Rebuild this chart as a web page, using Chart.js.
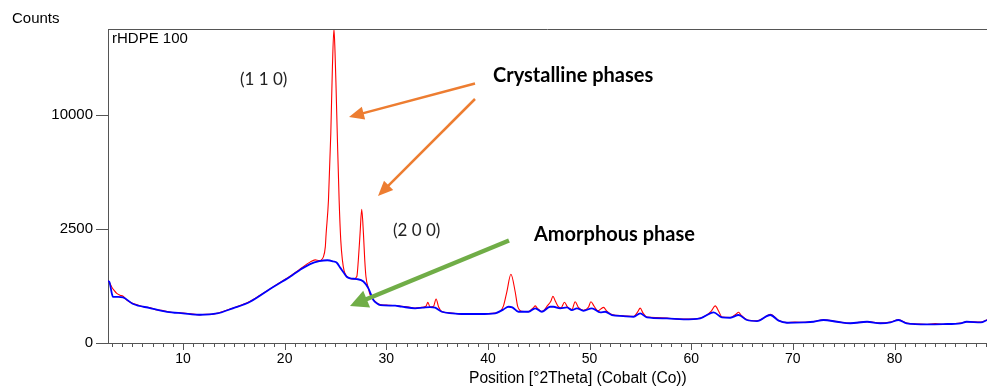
<!DOCTYPE html>
<html>
<head>
<meta charset="utf-8">
<script src="https://cdn.jsdelivr.net/npm/chart.js@4.4.0/dist/chart.umd.min.js"></script>
<style>
  html, body { margin: 0; padding: 0; background: #fff; }
</style>
</head>
<body>
<canvas id="xrd" width="987" height="387"></canvas>
<script>
// values (Counts vs Position [°2Theta])
var xTicks = [10, 20, 30, 40, 50, 60, 70, 80];
var yTicks = [0, 2500, 10000];

// amorphous fit (blue)
var blueX = [2.62, 2.75, 3.0, 3.1, 3.6, 4.1, 5.1, 6.75, 8.43, 10.0, 11.67, 13.35, 14.9, 16.6, 18.56, 20.53, 21.5, 22.5, 23.4, 24.2,
  24.8, 25.13, 25.5, 25.8, 26.1, 26.44, 27.1, 27.75, 28.24, 28.73, 29.1, 29.4, 30.87, 31.5, 32.84, 33.6, 34.3, 34.8, 35.46, 36.5,
  37.43, 39.2, 40.71, 41.5, 42.02, 42.4, 43.0, 43.99, 44.65, 45.31, 46.12, 46.45, 47.11, 47.77, 48.26, 48.75, 49.4, 50.23, 51.05, 51.54,
  52.2, 53.3, 54.33, 54.98, 55.64, 57.61, 59.25, 60.89, 61.87, 62.2, 63.02, 63.84, 64.66, 65.48, 66.47, 67.78, 68.6, 69.42, 71.06, 72.04,
  73.02, 74.34, 75.65, 77.3, 78.6, 79.6, 80.4, 81.2, 83.2, 84.8, 86.5, 87.1, 88.5, 89.1];
var blueY = [740, 720, 470, 412, 410, 400, 293, 236, 188, 170, 154, 168, 232, 328, 561, 846, 1030, 1200, 1290, 1320,
  1280, 1240, 1080, 960, 846, 805, 788, 730, 576, 356, 300, 278, 268, 255, 232, 240, 248, 240, 188, 170,
  162, 162, 170, 215, 253, 245, 188, 188, 232, 188, 253, 253, 232, 245, 209, 232, 200, 232, 181, 188,
  151, 140, 133, 170, 127, 117, 108, 117, 170, 181, 127, 123, 151, 102, 93, 151, 96, 79, 82, 87,
  102, 87, 75, 87, 75, 82, 102, 75, 67, 69, 75, 87, 82, 102];

// measured pattern (red)
var redX = [2.62, 2.8, 3.0, 3.2, 3.48, 3.8, 4.1, 4.5, 5.1, 5.6, 6.2, 6.75, 7.3, 7.9, 8.43, 9.0, 9.5, 10.0, 10.6, 11.2,
  11.67, 12.2, 12.8, 13.35, 14.0, 14.9, 15.8, 16.6, 17.5, 18.56, 19.5, 20.53, 21.5, 22.5, 23.0, 23.4, 23.81, 24.0, 24.08, 24.31,
  24.54, 24.7, 24.85, 24.95, 25.06, 25.19, 25.36, 25.52, 25.68, 25.85, 26.1, 26.44, 26.8, 27.1, 27.25, 27.42, 27.58, 27.75, 27.88, 28.0,
  28.24, 28.4, 28.73, 29.4, 30.2, 30.87, 31.5, 32.2, 32.84, 33.5, 33.9, 34.09, 34.3, 34.65, 34.9, 35.15, 35.46, 36.2, 37.0, 37.43,
  38.2, 39.0, 39.8, 40.71, 41.2, 41.52, 41.86, 42.26, 42.68, 42.92, 43.3, 43.99, 44.5, 44.65, 44.85, 45.31, 45.9, 46.2, 46.39, 46.65,
  46.9, 47.2, 47.53, 47.8, 48.26, 48.58, 48.9, 49.4, 49.9, 50.13, 50.45, 50.8, 51.37, 51.7, 52.2, 53.3, 54.33, 54.75, 54.98, 55.25,
  55.64, 56.6, 57.61, 58.5, 59.25, 60.2, 60.89, 61.5, 62.0, 62.36, 62.7, 63.02, 63.84, 64.4, 64.66, 64.9, 65.48, 66.47, 67.2, 67.78,
  68.6, 69.42, 70.2, 71.06, 72.04, 73.02, 74.34, 75.65, 76.5, 77.3, 78.6, 79.6, 80.4, 81.2, 82.2, 83.2, 84.0, 84.8, 85.7, 86.5,
  87.1, 88.5, 89.1];
var redY = [750, 690, 600, 540, 475, 440, 420, 350, 300, 275, 250, 242, 215, 205, 192, 180, 178, 172, 165, 158,
  152, 160, 158, 170, 195, 235, 280, 335, 430, 565, 700, 860, 1050, 1260, 1330, 1310, 1430, 1780, 2300, 3930,
  8460, 14700, 19000, 16500, 12500, 8000, 3930, 2040, 1330, 1000, 860, 805, 790, 850, 1330, 2315, 3440, 2315, 1330, 846,
  576, 450, 360, 285, 275, 270, 260, 250, 235, 245, 260, 319, 250, 260, 372, 250, 192, 175, 165, 160,
  168, 160, 165, 172, 195, 262, 506, 910, 506, 262, 195, 190, 245, 265, 235, 192, 275, 340, 420, 330,
  260, 240, 320, 255, 215, 328, 245, 205, 250, 328, 260, 200, 245, 195, 155, 143, 135, 190, 235, 175,
  130, 125, 120, 112, 110, 110, 120, 150, 200, 265, 195, 130, 125, 160, 182, 150, 105, 95, 125, 160,
  98, 80, 84, 83, 89, 104, 88, 74, 82, 88, 76, 84, 104, 76, 70, 66, 72, 68, 73, 76,
  88, 84, 104];

var sans = "'Liberation Sans', Arial, sans-serif";
var calib = "Lato, 'Open Sans', sans-serif";
var axisColor = '#555';

// square-root count axis, like the diffractometer software draws
class SqrtScale extends Chart.LinearScale {
  getPixelForValue(value) {
    var lo = Math.sqrt(Math.max(this.min, 0)), hi = Math.sqrt(this.max);
    return this.getPixelForDecimal((Math.sqrt(Math.max(value, 0)) - lo) / (hi - lo));
  }
  getValueForPixel(pixel) {
    var lo = Math.sqrt(Math.max(this.min, 0)), hi = Math.sqrt(this.max);
    var s = lo + this.getDecimalForPixel(pixel) * (hi - lo);
    return s * s;
  }
}
SqrtScale.id = 'sqrt';
SqrtScale.defaults = {};
Chart.register(SqrtScale);

function pts(xs, ys) {
  return xs.map(function (x, i) { return { x: x, y: ys[i] }; });
}

function arrow(ctx, x1, y1, x2, y2, color, w, headLen, headW) {
  var ang = Math.atan2(y2 - y1, x2 - x1);
  var c = Math.cos(ang), s = Math.sin(ang);
  var bx = x2 - headLen * c, by = y2 - headLen * s;
  ctx.strokeStyle = color;
  ctx.lineWidth = w;
  ctx.lineCap = 'butt';
  ctx.beginPath();
  ctx.moveTo(x1, y1);
  ctx.lineTo(bx + c, by + s);
  ctx.stroke();
  ctx.fillStyle = color;
  ctx.beginPath();
  ctx.moveTo(x2, y2);
  ctx.lineTo(bx + headW * s, by - headW * c);
  ctx.lineTo(bx - headW * s, by + headW * c);
  ctx.closePath();
  ctx.fill();
}

var decor = {
  id: 'decor',
  afterDraw: function (chart) {
    var ctx = chart.ctx, a = chart.chartArea, xs = chart.scales.x;
    ctx.save();
    // frame top
    ctx.strokeStyle = axisColor;
    ctx.lineWidth = 1;
    ctx.beginPath();
    ctx.moveTo(a.left, a.top + 0.5);
    ctx.lineTo(a.right, a.top + 0.5);
    ctx.stroke();
    // minor / major ticks on the 2Theta axis
    ctx.beginPath();
    for (var d = 3; d <= 89; d++) {
      var px = Math.round(xs.getPixelForValue(d)) + 0.5;
      ctx.moveTo(px, a.bottom);
      ctx.lineTo(px, a.bottom + (d % 10 === 0 ? 7 : 4));
    }
    ctx.stroke();

    ctx.fillStyle = '#000';
    ctx.textBaseline = 'alphabetic';
    ctx.textAlign = 'left';
    ctx.font = '15px ' + sans;
    ctx.fillText('Counts', 12, 23);
    ctx.fillText('rHDPE 100', 112, 43);
    // axis title sits off-centre: the original plot runs past the crop
    ctx.font = '15.6px ' + sans;
    ctx.fillText('Position [°2Theta] (Cobalt (Co))', 469, 383);

    ctx.fillStyle = '#222';
    ctx.font = '17px ' + calib;
    ctx.fillText('(1 1 0)', 240, 85);
    ctx.fillText('(2 0 0)', 393, 236);
    ctx.fillStyle = '#000';
    ctx.font = 'bold 20px ' + calib;
    ctx.fillText('Crystalline phases', 493, 82);
    ctx.fillText('Amorphous phase', 534, 241);

    arrow(ctx, 475, 83.5, 349, 117, '#ED7D31', 2.5, 15, 6.5);
    arrow(ctx, 475, 99, 378, 196, '#ED7D31', 2.5, 15, 6.5);
    arrow(ctx, 509, 240.5, 350, 306, '#70AD47', 4.5, 18, 9);
    ctx.restore();
  }
};

new Chart(document.getElementById('xrd'), {
  type: 'line',
  data: {
    datasets: [
      {
        label: 'Amorphous',
        data: pts(blueX, blueY),
        borderColor: '#0000ff',
        borderWidth: 1.8,
        pointRadius: 0,
        cubicInterpolationMode: 'monotone',
        order: 0
      },
      {
        label: 'rHDPE 100',
        data: pts(redX, redY),
        borderColor: '#ff0000',
        borderWidth: 1.1,
        pointRadius: 0,
        cubicInterpolationMode: 'monotone',
        order: 1
      }
    ]
  },
  options: {
    responsive: false,
    animation: false,
    devicePixelRatio: 1,
    layout: { padding: { top: 29, left: 0, right: 0, bottom: 0 } },
    plugins: { legend: { display: false }, tooltip: { enabled: false } },
    scales: {
      x: {
        type: 'linear',
        min: 2.62,
        max: 89.1,
        afterBuildTicks: function (s) { s.ticks = xTicks.map(function (v) { return { value: v }; }); },
        afterFit: function (s) { s.height = 44; },
        grid: { display: true, drawOnChartArea: false, drawTicks: false },
        border: { display: true, color: axisColor, width: 1 },
        ticks: { color: '#000', font: { family: sans, size: 14 }, padding: 8, maxRotation: 0, autoSkip: false }
      },
      y: {
        type: 'sqrt',
        min: 0,
        max: 19000,
        afterBuildTicks: function (s) { s.ticks = yTicks.map(function (v) { return { value: v }; }); },
        afterFit: function (s) { s.width = 108; },
        grid: { display: true, drawOnChartArea: false, drawTicks: true, tickLength: 12, color: axisColor },
        border: { display: true, color: axisColor, width: 1 },
        ticks: {
          color: '#000',
          font: { family: sans, size: 15 },
          padding: 3,
          callback: function (v) { return String(v); }
        }
      }
    }
  },
  plugins: [decor]
});
</script>
</body>
</html>
